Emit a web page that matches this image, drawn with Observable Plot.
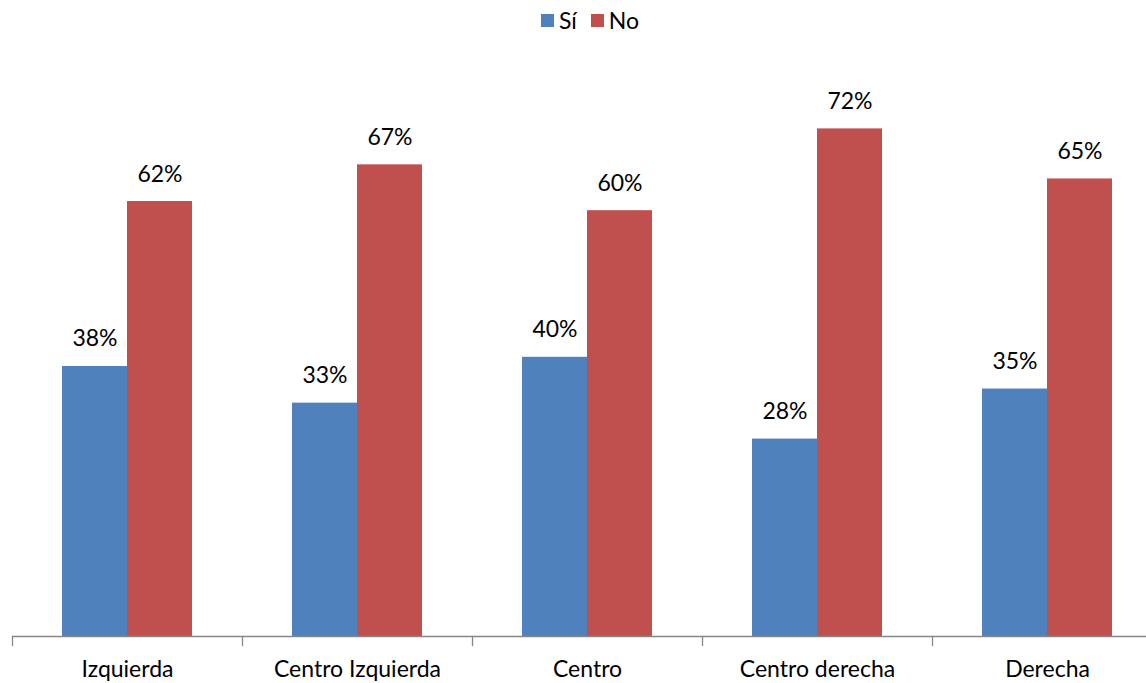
<!DOCTYPE html>
<html>
<head>
<meta charset="utf-8">
<script src="https://cdn.jsdelivr.net/npm/d3@7"></script>
<script src="https://cdn.jsdelivr.net/npm/@observablehq/plot@0.6"></script>
<style>
  html, body { margin: 0; padding: 0; background: #fff; overflow: hidden; }
  body { font-family: Lato, "Open Sans", sans-serif; color: #000; }
  #legend { height: 40px; display: flex; justify-content: center; align-items: center; padding-left: 34px; box-sizing: border-box; font-size: 23px; }
  .item { display: flex; align-items: center; margin: 0 7px; }
  .sw { width: 13px; height: 13px; margin-right: 5px; }
</style>
</head>
<body>
<div id="legend"></div>
<div id="chart"></div>
<script>
const categories = ["Izquierda", "Centro Izquierda", "Centro", "Centro derecha", "Derecha"];
const series = ["Sí", "No"];
const siValues = [38.3, 33.1, 39.6, 28.0, 35.1];
const noValues = [61.7, 66.9, 60.4, 72.0, 64.9];
const colors = ["#4F81BD", "#C0504D"];

const rows = [];
categories.forEach((c, i) => {
  rows.push({cat: c, serie: series[0], value: siValues[i]});
  rows.push({cat: c, serie: series[1], value: noValues[i]});
});

const legend = document.getElementById("legend");
series.forEach((s, i) => {
  const it = document.createElement("div");
  it.className = "item";
  const sw = document.createElement("div");
  sw.className = "sw";
  sw.style.background = colors[i];
  const t = document.createElement("span");
  t.textContent = s;
  it.appendChild(sw);
  it.appendChild(t);
  legend.appendChild(it);
});

const fmt = d3.format(".0f");
const axisColor = "#868686";

const chart = Plot.plot({
  width: 1146,
  height: 643,
  marginLeft: 12,
  marginRight: -16,
  marginTop: 32,
  marginBottom: 47,
  style: {fontFamily: "Lato, 'Open Sans', sans-serif", fontSize: "23px", color: "#000", background: "#fff"},
  fx: {domain: categories, padding: 0, axis: "bottom", tickSize: 0, tickPadding: 24, label: null},
  x: {domain: series, paddingInner: 0, paddingOuter: 0.756, axis: null},
  y: {domain: [0, 80], axis: null},
  color: {domain: series, range: colors},
  marks: [
    Plot.barY(rows, {fx: "cat", x: "serie", y: "value", fill: "serie"}),
    Plot.text(rows, {fx: "cat", x: "serie", y: "value", text: d => fmt(d.value) + "%", lineAnchor: "bottom", dy: -20, fontSize: 23, fill: "#000"}),
    Plot.ruleY([0], {stroke: axisColor, strokeWidth: 1.3}),
    Plot.frame({anchor: "left", stroke: axisColor, strokeWidth: 1.3, insetTop: 564, insetBottom: -9})
  ]
});
document.getElementById("chart").appendChild(chart);
</script>
</body>
</html>
